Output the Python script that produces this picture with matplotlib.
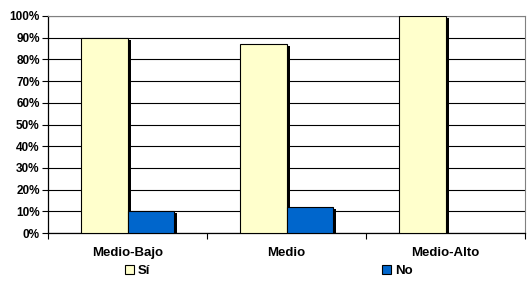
import matplotlib
matplotlib.use("Agg")
import matplotlib.pyplot as plt
import matplotlib.patheffects as pe
from matplotlib.patches import Patch
import numpy as np

categories = ["Medio-Bajo", "Medio", "Medio-Alto"]
si_values = [90, 87, 100]
no_values = [10, 12, 0]
series_names = ["Sí", "No"]
y_ticks = list(range(0, 101, 10))
y_labels = [f"{v}%" for v in y_ticks]

plt.rcParams['font.family'] = ['Liberation Sans', 'DejaVu Sans']
plt.rcParams['font.weight'] = 'bold'
FS = 8.5
FS_CAT = 9.5

fig = plt.figure(figsize=(5.30, 2.88), dpi=100)
ax = fig.add_axes([48/530, 1-233/288, (525-48)/530, (233-16)/288])

x = np.arange(len(categories))
w = 0.29
shadow = [pe.SimplePatchShadow(offset=(2.2, -1.5), shadow_rgbFace='black', alpha=1.0), pe.Normal()]

b1 = ax.bar(x - w/2, si_values, w, color='#FFFFCC', edgecolor='black', linewidth=0.8, zorder=3)
for p in b1:
    p.set_path_effects(shadow)
b2 = ax.bar(x + w/2, no_values, w, color='#0066CC', edgecolor='black', linewidth=0.8, zorder=4)
for p, v in zip(b2, no_values):
    if v > 0:
        p.set_path_effects(shadow)
    else:
        p.set_visible(False)

ax.set_xlim(-0.5, 2.5)
ax.set_ylim(0, 100)
ax.set_yticks(y_ticks)
ax.set_yticklabels(y_labels, fontsize=FS, fontweight='bold')
ax.yaxis.grid(True, color='black', linewidth=0.8, zorder=1)
ax.set_axisbelow(True)

ax.set_xticks([-0.5, 0.5, 1.5, 2.5])
ax.set_xticklabels([])
ax.set_xticks(x, minor=True)
ax.set_xticklabels(categories, minor=True, fontsize=FS_CAT, fontweight='bold')
ax.tick_params(axis='x', which='minor', length=0, pad=10)
ax.tick_params(axis='x', which='major', length=4, width=0.8, direction='out')
ax.tick_params(axis='y', length=4, width=0.8, direction='out', pad=2)

for s in ['left', 'bottom']:
    ax.spines[s].set_color('black')
    ax.spines[s].set_linewidth(0.9)
for s in ['top', 'right']:
    ax.spines[s].set_color('#808080')
    ax.spines[s].set_linewidth(0.8)

handles = [Patch(facecolor='#FFFFCC', edgecolor='black', linewidth=0.8),
           Patch(facecolor='#0066CC', edgecolor='black', linewidth=0.8)]
fig.legend(handles, series_names, loc='center', bbox_to_anchor=(0.507, 1-271/288),
           ncol=2, frameon=False, handlelength=0.65, handleheight=0.65,
           handletextpad=0.3, columnspacing=17.6, prop={'weight': 'bold', 'size': FS_CAT})

fig.savefig("out.png", dpi=100)
